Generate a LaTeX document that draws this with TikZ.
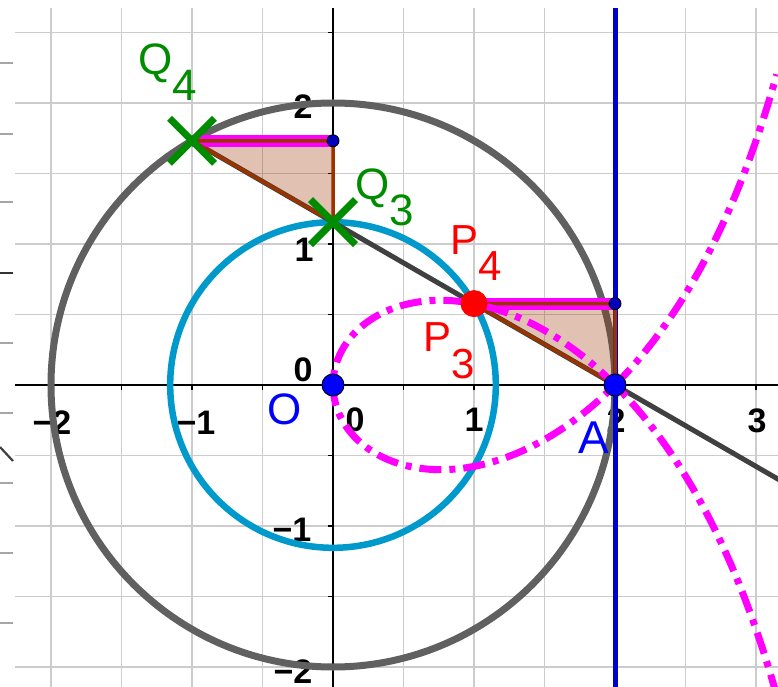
\documentclass[tikz,border=0pt]{standalone}
\usepackage{fontspec}
\setmainfont{Liberation Sans}
\usetikzlibrary{calc,shapes.misc}
\definecolor{gridc}{RGB}{204,204,204}
\definecolor{circgray}{RGB}{96,96,96}
\definecolor{cyanc}{RGB}{0,153,204}
\definecolor{vblue}{RGB}{0,0,204}
\definecolor{darkl}{RGB}{64,64,64}
\definecolor{brownc}{RGB}{153,51,0}
\definecolor{magc}{RGB}{255,0,255}
\definecolor{ptblue}{RGB}{0,0,255}
\definecolor{navyc}{RGB}{0,0,190}
\definecolor{ggreen}{RGB}{0,140,0}
\definecolor{pred}{RGB}{255,0,0}
\begin{document}
\begin{tikzpicture}[x=141pt,y=141pt,
  gridline/.style={gridc, line width=1.6pt},
  axisline/.style={black, line width=2.6pt},
  tickline/.style={black, line width=1.6pt},
  stripline/.style={gray!70, line width=1.6pt},
  ticklbl/.style={font=\fontsize{34}{34}\selectfont\bfseries, text=black, inner sep=0pt},
  ptlabel/.style={font=\fontsize{44}{44}\selectfont, inner sep=0pt},
  bigpt/.style={circle, draw=black, line width=0.9pt, minimum size=22pt, inner sep=0pt},
  smallpt/.style={circle, fill=navyc, draw=black, line width=0.9pt, minimum size=12pt, inner sep=0pt},
  xmark/.style={cross out, draw=ggreen, line width=7pt, minimum size=38pt, inner sep=0pt},
  tri/.style={fill=brownc, fill opacity=0.3, draw=none},
  triedge/.style={brownc, line width=3.5pt, line cap=round, line join=round},
  topseg/.style={magc, line width=12pt},
  locus/.style={magc, line width=7pt, dash pattern=on 22pt off 8pt on 6pt off 8pt}
]
\useasboundingbox (-333pt,-302pt) rectangle (445pt,385pt);
\begin{scope}
\clip (-333pt,-302pt) rectangle (445pt,385pt);
% grid
\foreach \i in {-4,...,6} \draw[gridline] ({\i*70.5pt},-302pt) -- ({\i*70.5pt},377pt);
\foreach \i in {-4,...,5} \draw[gridline] (-318pt,{\i*70.5pt}) -- (445pt,{\i*70.5pt});
% left strip remnants
\foreach \Y in {322,251,183,42,-28,-98,-168,-238} \draw[stripline] (-333pt,\Y pt) -- (-320pt,\Y pt);
\draw[black!80, line width=2.2pt] (-333pt,112pt) -- (-320pt,112pt);
\draw[darkl, line width=2.2pt] (-333pt,-62pt) -- (-320pt,-76pt);
% axes
\draw[axisline] (-318pt,0pt) -- (445pt,0pt);
\draw[axisline] (0pt,-302pt) -- (0pt,377pt);
\foreach \i in {-4,...,6} \draw[tickline] ({\i*70.5pt},0pt) -- ({\i*70.5pt},-5pt);
\foreach \i in {-4,...,5} \draw[tickline] (0pt,{\i*70.5pt}) -- (-5pt,{\i*70.5pt});
% axis labels
\node[ticklbl] (xm2) at (-281pt,-38pt) {−2};
\node[ticklbl] (xm1) at (-137pt,-38pt) {−1};
\node[ticklbl] (x0) at (22pt,-35pt) {0};
\node[ticklbl] (x1) at (141pt,-35pt) {1};
\node[ticklbl] (x2) at (283pt,-36pt) {2};
\node[ticklbl] (x3) at (424pt,-36pt) {3};
\node[ticklbl] (y2) at (-30pt,278pt) {2};
\node[ticklbl] (y1) at (-29pt,135pt) {1};
\node[ticklbl] (y0) at (-30pt,15pt) {0};
\node[ticklbl] (ym1) at (-41pt,-145pt) {−1};
\node[ticklbl] (ym2) at (-40pt,-287pt) {−2};
% key points
\coordinate (O) at (0,0);
\coordinate (A) at (2,0);
\coordinate (Q4) at (-1,{sqrt(3)});
\coordinate (Q3) at (0,{2/sqrt(3)});
\coordinate (B1) at (0,{sqrt(3)});
\coordinate (P) at (1,{1/sqrt(3)});
\coordinate (B2) at (2,{1/sqrt(3)});
\coordinate (E) at ($(Q4)!1.5!(A)$);
\coordinate (VT) at (282pt,377pt);
\coordinate (VB) at (282pt,-302pt);
% circles
\draw[circgray, line width=7pt] (O) circle (2);
\draw[cyanc, line width=6.5pt] (O) circle ({2/sqrt(3)});
% vertical line x=2
\draw[vblue, line width=5pt] (VB) -- (VT);
% line through Q4 and A
\draw[darkl, line width=5pt] (Q4) -- (E);
% triangles
\fill[tri] (Q4) -- (B1) -- (Q3) -- cycle;
\fill[tri] (P) -- (B2) -- (A) -- cycle;
\draw[topseg] (Q4) -- (B1);
\draw[topseg] (P) -- (B2);
\draw[triedge] (Q4) -- (B1) -- (Q3) -- cycle;
\draw[triedge] (P) -- (B2) -- (A) -- cycle;
% locus
\draw[locus] plot[domain=117.5:242.5, samples=300, variable=\t, smooth] ({2-2*cos(2*\t)}, {-2*cos(2*\t)*tan(\t)});
% points
\node[smallpt] (b1) at (B1) {};
\node[smallpt] (b2) at (B2) {};
\node[bigpt, fill=ptblue] (o) at (O) {};
\node[bigpt, fill=ptblue] (a) at (A) {};
\node[bigpt, fill=pred, draw=pred, minimum size=26pt] (p) at (P) {};
\node[xmark] (q4) at (Q4) {};
\node[xmark] (q3) at (Q3) {};
% labels
\node[ptlabel, text=ggreen, anchor=base west] (lQ4) at (-195pt,310pt) {Q\raisebox{-26pt}{4}};
\node[ptlabel, text=ggreen, anchor=base west] (lQ3) at (22pt,185pt) {Q\raisebox{-26pt}{3}};
\node[ptlabel, text=pred, anchor=base west, font=\fontsize{42}{42}\selectfont] (lP4) at (117pt,130pt) {P\raisebox{-26pt}{4}};
\node[ptlabel, text=pred, anchor=base west, font=\fontsize{42}{42}\selectfont] (lP3) at (90pt,33pt) {P\raisebox{-27pt}{3}};
\node[ptlabel, text=ptblue] (lO) at (-48pt,-24pt) {O};
\node[ptlabel, text=ptblue, font=\fontsize{46}{46}\selectfont] (lA) at (261pt,-53pt) {A};
\end{scope}
\end{tikzpicture}
\end{document}
